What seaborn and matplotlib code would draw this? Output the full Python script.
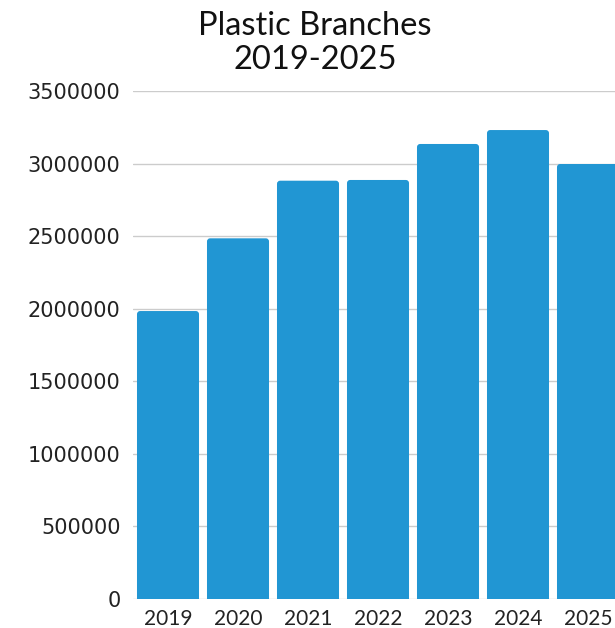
import matplotlib
matplotlib.use("Agg")
import matplotlib.pyplot as plt
from matplotlib.patches import FancyBboxPatch
import seaborn as sns
import pandas as pd

years = ["2019", "2020", "2021", "2022", "2023", "2024", "2025"]
values = [1984000, 2485000, 2882000, 2887000, 3135000, 3231000, 2997000]
yticks = [0, 500000, 1000000, 1500000, 2000000, 2500000, 3000000, 3500000]
title = "Plastic Branches\n2019-2025"

sns.set_theme(style="white")
plt.rcParams["font.family"] = ["Lato", "DejaVu Sans"]

df = pd.DataFrame({"year": years, "value": values})
W, H, DPI = 615, 628, 100
fig = plt.figure(figsize=(W / DPI, H / DPI), dpi=DPI)
left_px, right_px, top_px, bot_px = 133, 623, 91, 599
ax = fig.add_axes([left_px / W, 1 - bot_px / H, (right_px - left_px) / W, (bot_px - top_px) / H])

color = "#2196D3"
sns.barplot(data=df, x="year", y="value", color=color, width=0.886, ax=ax,
            saturation=1, zorder=3)
ax.set_xlim(-0.5, 6.5)
ax.set_ylim(0, 3500000)

# rounded corners
xpp = 7 / (right_px - left_px)
ypp = 3500000 / (bot_px - top_px)
aspect = ypp / xpp
r = 0.045
for p in list(ax.patches):
    x, y, w, h = p.get_x(), p.get_y(), p.get_width(), p.get_height()
    p.remove()
    fb = FancyBboxPatch((x, y - r * aspect * 2), w, h + r * aspect * 2,
                        boxstyle=f"round,pad=0,rounding_size={r}",
                        mutation_aspect=aspect, facecolor=color,
                        edgecolor="none", zorder=3, clip_on=True)
    ax.add_patch(fb)

ax.set_yticks(yticks)
ax.set_yticklabels([str(v) for v in yticks], fontfamily=["DejaVu Sans"],
                   fontsize=15, color="#222222")
ax.set_xticks(range(len(years)))
ax.set_xticklabels(years, fontsize=15, color="#222222")
ax.tick_params(axis="y", length=0, pad=9)
ax.tick_params(axis="x", length=0, pad=7)
ax.grid(axis="y", color="#cccccc", linewidth=1, zorder=0)
ax.grid(axis="x", visible=False)
for s in ax.spines.values():
    s.set_visible(False)
ax.set_xlabel("")
ax.set_ylabel("")

fig.text(315 / W, 1 - 11 / H, title, ha="center", va="top", fontsize=23.5,
         color="#111111", linespacing=1.17)

fig.savefig("out.png", dpi=DPI)
